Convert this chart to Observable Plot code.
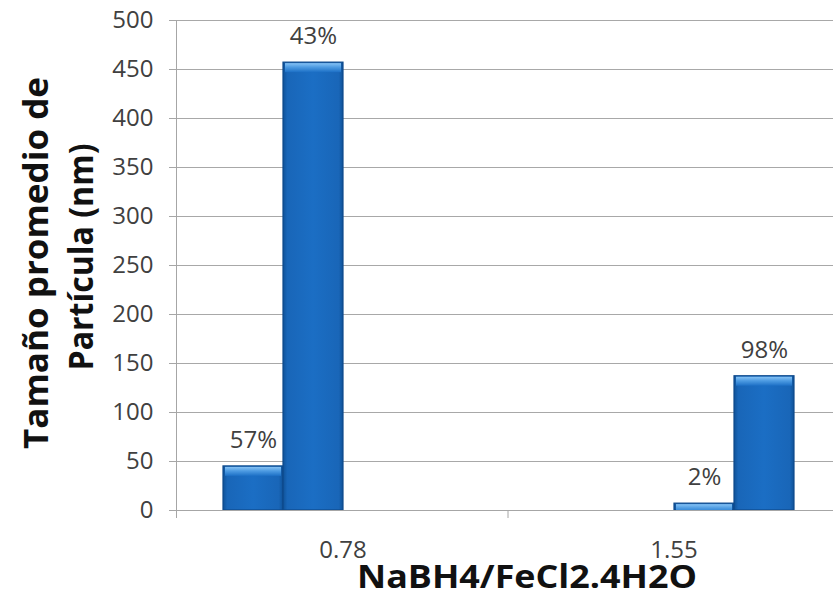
<!DOCTYPE html>
<html>
<head>
<meta charset="utf-8">
<script src="https://cdn.jsdelivr.net/npm/d3@7"></script>
<script src="https://cdn.jsdelivr.net/npm/@observablehq/plot@0.6"></script>
<style>
  html, body { margin: 0; padding: 0; background: #ffffff; }
  #chart { position: relative; width: 833px; height: 598px; }
  #chart svg g[aria-label*="axis"] line,
  #chart svg g[aria-label*="axis"] path { stroke: #a6a6a6; }
</style>
</head>
<body>
<!-- shared gradients for the bevelled bars -->
<svg width="0" height="0" style="position:absolute">
  <defs>
    <linearGradient id="barBody" x1="0" y1="0" x2="1" y2="0">
      <stop offset="0" stop-color="#0f5298"/>
      <stop offset="0.07" stop-color="#1966b8"/>
      <stop offset="0.5" stop-color="#1b6ec4"/>
      <stop offset="0.93" stop-color="#1966b8"/>
      <stop offset="1" stop-color="#0f5298"/>
    </linearGradient>
    <linearGradient id="barTop" x1="0" y1="0" x2="0" y2="1">
      <stop offset="0" stop-color="#86c2f4"/>
      <stop offset="0.45" stop-color="#4d9be2"/>
      <stop offset="1" stop-color="#1d70c6"/>
    </linearGradient>
  </defs>
</svg>
<div id="chart"></div>
<script>
// Ratio groups on the horizontal axis
const categories = ["0.78", "1.55"];
// Bar slots inside each group
const slots = ["s1", "s2", "s3", "s4"];
// One entry per bar
const barGroup = ["0.78", "0.78", "1.55", "1.55"];
const barSlot = ["s1", "s2", "s3", "s4"];
const sizes = [45, 457, 7, 137];          // average particle size (nm)
const shares = ["57%", "43%", "2%", "98%"]; // population share of each size
const yTicks = [0, 50, 100, 150, 200, 250, 300, 350, 400, 450, 500];

const rows = sizes.map((v, i) => ({
  group: barGroup[i],
  slot: barSlot[i],
  size: v,
  share: shares[i]
}));

const chart = Plot.plot({
  width: 833,
  height: 598,
  marginLeft: 176,
  marginRight: 0,
  marginTop: 20,
  marginBottom: 88,
  style: {
    fontFamily: "'Open Sans', sans-serif",
    fontSize: "24px",
    color: "#404040",
    background: "white",
    overflow: "visible"
  },
  facet: {data: rows, x: "group"},
  fx: {
    domain: categories,
    range: [176, 839],
    padding: 0,
    axis: "bottom",
    label: null,
    tickSize: 0,
    tickPadding: 30
  },
  x: {domain: slots, paddingInner: 0, paddingOuter: 0.73, axis: null},
  y: {domain: [0, 500], ticks: yTicks, tickSize: 8, tickPadding: 16, label: null},
  marks: [
    Plot.ruleY(yTicks, {stroke: "#a8a8a8", strokeWidth: 1}),
    Plot.barY(rows, {
      x: "slot",
      y: "size",
      fill: "url(#barBody)",
      stroke: "#0e4a8c",
      strokeWidth: 1.2
    }),
    // light bevel along the top edge of each bar, kept inside the frame
    Plot.barY(rows, {
      x: "slot",
      y1: "size",
      y2: "size",
      insetTop: 1,
      insetBottom: -10,
      insetLeft: 2,
      insetRight: 2,
      fill: "url(#barTop)",
      clip: true
    }),
    Plot.text(rows, {
      x: "slot",
      y: "size",
      text: "share",
      dy: -26,
      fontSize: 24,
      fill: "#404040"
    })
  ]
});

document.getElementById("chart").appendChild(chart);

// Axis lines and group boundary ticks, placed with the chart's own scales
const svg = d3.select(chart);
const yScale = Plot.scale({y: chart.scale("y")});
const fxDesc = chart.scale("fx");
const y0 = yScale.apply(0);
const yTop = yScale.apply(500);
const [r0, r1] = fxDesc.range;
const step = (r1 - r0) / fxDesc.domain.length;
const edges = d3.range(fxDesc.domain.length + 1).map(i => r0 + i * step);

const axes = svg.append("g").attr("stroke", "#a6a6a6").attr("stroke-width", 1);
axes.append("line")
  .attr("x1", r0 + 0.5).attr("x2", r0 + 0.5)
  .attr("y1", yTop).attr("y2", y0 + 8);
axes.append("line")
  .attr("x1", r0).attr("x2", r1)
  .attr("y1", y0 + 0.5).attr("y2", y0 + 0.5);
axes.selectAll("line.edge")
  .data(edges)
  .join("line")
  .attr("class", "edge")
  .attr("x1", d => d + 0.5).attr("x2", d => d + 0.5)
  .attr("y1", y0).attr("y2", y0 + 8);

// Axis titles
svg.append("text")
  .attr("x", 527)
  .attr("y", 588)
  .attr("text-anchor", "middle")
  .attr("font-family", "'Open Sans', sans-serif")
  .attr("font-weight", "bold")
  .attr("font-size", 33)
  .attr("textLength", 340)
  .attr("lengthAdjust", "spacingAndGlyphs")
  .attr("fill", "#111")
  .text("NaBH4/FeCl2.4H2O");

const yTitle = svg.append("g")
  .attr("font-family", "'Open Sans', sans-serif")
  .attr("font-weight", "bold")
  .attr("font-size", 34)
  .attr("fill", "#111")
  .attr("text-anchor", "middle");
yTitle.append("text")
  .attr("transform", "translate(35,263) rotate(-90)")
  .attr("dominant-baseline", "central")
  .attr("textLength", 372)
  .attr("lengthAdjust", "spacingAndGlyphs")
  .text("Tamaño promedio de");
yTitle.append("text")
  .attr("transform", "translate(80,257) rotate(-90)")
  .attr("dominant-baseline", "central")
  .attr("textLength", 227)
  .attr("lengthAdjust", "spacingAndGlyphs")
  .text("Partícula (nm)");
</script>
</body>
</html>
